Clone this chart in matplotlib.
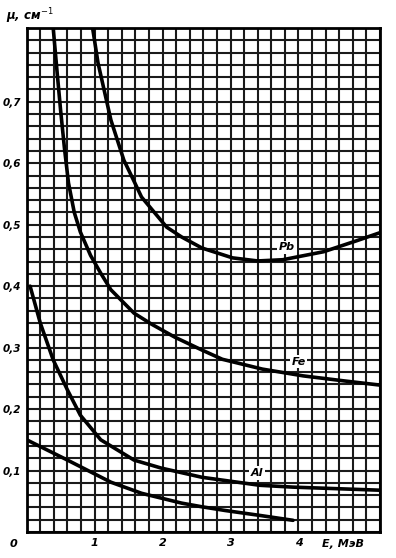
import matplotlib
matplotlib.use("Agg")
import matplotlib.pyplot as plt
import numpy as np

# Data (E in MeV, mu in 1/cm)
pb_E = [0.97, 1.05, 1.24, 1.43, 1.57, 1.69, 2.06, 2.28, 2.58, 3.03, 3.40, 3.77, 4.37, 4.86, 5.20]
pb_mu = [0.82, 0.763, 0.670, 0.605, 0.573, 0.545, 0.496, 0.480, 0.462, 0.446, 0.441, 0.443, 0.456, 0.474, 0.487]

fe_E = [0.39, 0.45, 0.50, 0.555, 0.615, 0.70, 0.79, 0.94, 1.09, 1.24, 1.58, 1.84, 2.18, 2.58, 2.88, 3.47, 4.07, 4.66, 5.20]
fe_mu = [0.82, 0.745, 0.685, 0.625, 0.568, 0.520, 0.488, 0.450, 0.421, 0.394, 0.356, 0.338, 0.317, 0.296, 0.281, 0.265, 0.254, 0.246, 0.239]

al_E = [0.05, 0.20, 0.39, 0.60, 0.79, 1.09, 1.58, 1.98, 2.58, 3.43, 3.92, 5.20]
al_mu = [0.40, 0.34, 0.28, 0.231, 0.190, 0.150, 0.117, 0.104, 0.089, 0.076, 0.073, 0.068]

low_E = [0.0, 0.60, 1.24, 1.69, 2.28, 2.58, 2.92, 3.43, 3.92]
low_mu = [0.150, 0.117, 0.081, 0.063, 0.047, 0.041, 0.035, 0.027, 0.019]

x_ticks = [1, 2, 3, 4]
x_tick_labels = ["1", "2", "3", "4"]
y_ticks = [0.1, 0.2, 0.3, 0.4, 0.5, 0.6, 0.7]
y_tick_labels = ["0,1", "0,2", "0,3", "0,4", "0,5", "0,6", "0,7"]

W, H = 396, 558
fig = plt.figure(figsize=(W / 100, H / 100), dpi=100)
ax = fig.add_axes([26.7 / W, 1 - 532 / H, (380 - 26.7) / W, (532 - 28) / H])
ax.set_xlim(0, 5.2)
ax.set_ylim(0, 0.82)

# dense grid
for xv in np.arange(0, 5.2001, 0.2):
    ax.axvline(xv, color="#1a1a1a", lw=1.5, zorder=1)
for yv in np.arange(0, 0.8201, 0.02):
    ax.axhline(yv, color="#1a1a1a", lw=1.5, zorder=1)

for E, mu in [(pb_E, pb_mu), (fe_E, fe_mu), (al_E, al_mu), (low_E, low_mu)]:
    ax.plot(E, mu, color="black", lw=2.6, solid_capstyle="round",
            solid_joinstyle="round", zorder=3, clip_on=True)

lab = dict(fontsize=8, fontstyle="italic", fontweight="bold", zorder=5,
           ha="center", va="center",
           bbox=dict(boxstyle="square,pad=0.15", fc="white", ec="none"))
ax.text(3.83, 0.463, "Pb", **lab)
ax.text(4.0, 0.277, "Fe", **lab)
ax.text(3.39, 0.096, "Al", **lab)

for s in ax.spines.values():
    s.set_linewidth(2.0)
    s.set_color("black")

ax.set_xticks(x_ticks)
ax.set_xticklabels(x_tick_labels, fontsize=8, fontstyle="italic", fontweight="bold")
ax.set_yticks(y_ticks)
ax.set_yticklabels(y_tick_labels, fontsize=7.5, fontstyle="italic", fontweight="bold")
ax.tick_params(length=0, pad=4)
for t in ax.get_xticklabels():
    t.set_x(t.get_position()[0])

ax.text(-0.2, -0.012, "0", transform=ax.transData, fontsize=8, fontstyle="italic",
        fontweight="bold", ha="center", va="top")
ax.text(4.66, -0.012, "E, МэВ", fontsize=8, fontstyle="italic", fontweight="bold",
        ha="center", va="top")
fig.text(6 / W, 1 - 16 / H, "μ, см$^{-1}$", fontsize=8.5, fontstyle="italic",
         fontweight="bold", ha="left", va="center")

fig.savefig("out.png", dpi=100, facecolor="white")
